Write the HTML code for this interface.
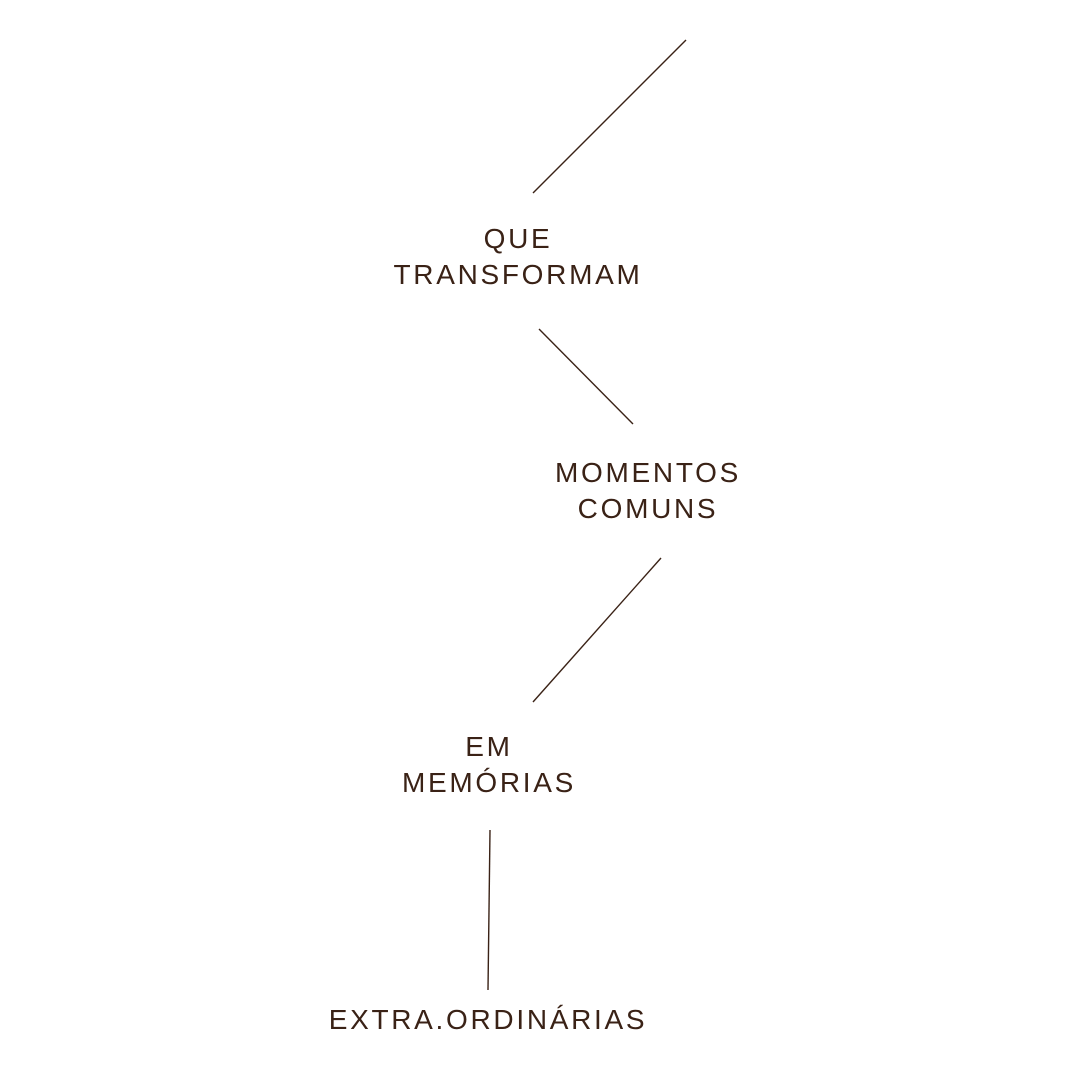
<!DOCTYPE html>
<html><head><meta charset="utf-8"><style>
html,body{margin:0;padding:0;background:#fff}
body{width:1080px;height:1080px;position:relative;overflow:hidden}
.t{position:absolute;width:600px;text-align:center;font-family:"Liberation Sans",sans-serif;font-size:28px;line-height:36px;letter-spacing:2.7px;color:#3a2216;white-space:nowrap}
</style></head><body>
<svg width="1080" height="1080" style="position:absolute;left:0;top:0">
<g stroke="#3a2216" stroke-width="1.4" fill="none">
<line x1="686" y1="40" x2="533" y2="193"/>
<line x1="539" y1="329" x2="633" y2="424"/>
<line x1="661" y1="558" x2="533" y2="702"/>
<line x1="490" y1="830" x2="488" y2="990"/>
</g></svg>
<div class="t" style="left:218px;top:221px">QUE<br>TRANSFORMAM</div>
<div class="t" style="left:348px;top:455px">MOMENTOS<br>COMUNS</div>
<div class="t" style="left:189px;top:729px">EM<br>MEMÓRIAS</div>
<div class="t" style="left:188px;top:1002px">EXTRA.ORDINÁRIAS</div>
</body></html>
